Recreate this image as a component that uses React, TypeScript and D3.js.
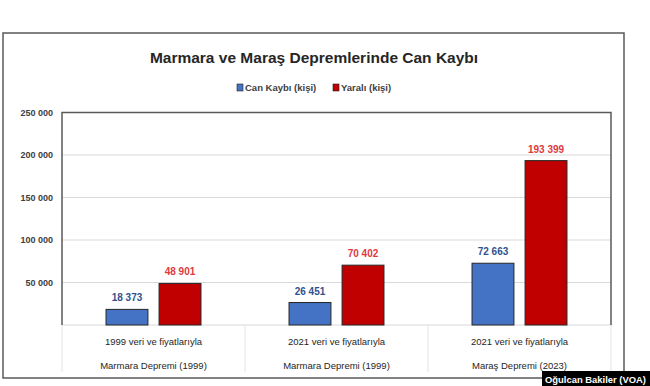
import React from "react";
import * as d3 from "d3";

const categories = ["Marmara Depremi (1999) a", "Marmara Depremi (1999) b", "Maraş Depremi (2023)"];
const rowOne = ["1999 veri ve fiyatlarıyla", "2021 veri ve fiyatlarıyla", "2021 veri ve fiyatlarıyla"];
const rowTwo = ["Marmara Depremi (1999)", "Marmara Depremi (1999)", "Maraş Depremi (2023)"];
const seriesNames = ["Can Kaybı (kişi)", "Yaralı (kişi)"];
const canKaybi = [18373, 26451, 72663];
const yarali = [48901, 70402, 193399];
const yTicks = [50000, 100000, 150000, 200000, 250000];

const W = 650;
const H = 386;
const font = "'Liberation Sans', Arial, sans-serif";
const barFill = ["#4472C4", "#C00000"];
const labelFill = ["#2F528F", "#E0393E"];

const fmt = (v: number) => d3.format(",")(v).replace(/,/g, " ");

export default function App() {
  const plot = { left: 62, right: 611, top: 112.5, bottom: 325 };
  const x = d3.scaleBand<string>().domain(categories).range([plot.left, plot.right]).padding(0);
  const xs = d3
    .scaleBand<string>()
    .domain(seriesNames)
    .range([0, x.bandwidth()])
    .paddingInner(0.21)
    .paddingOuter(0.83);
  const y = d3.scaleLinear().domain([0, 250000]).range([plot.bottom, plot.top]);
  const series = [canKaybi, yarali];

  return (
    <svg
      width={W}
      height={H}
      style={{ position: "absolute", left: 0, top: 0, background: "#fff" }}
      fontFamily={font}
    >
      <rect x={3} y={33} width={621} height={345} fill="#fff" stroke="#595959" strokeWidth={1.5} />

      <text x={314} y={63} textAnchor="middle" fontSize={15.5} fontWeight="bold" fill="#262626">
        Marmara ve Maraş Depremlerinde Can Kaybı
      </text>

      {/* legend */}
      <g fontSize={9.5} fontWeight="bold" fill="#404040">
        <rect x={237} y={84} width={6} height={7} fill={barFill[0]} stroke="#222" strokeWidth={0.6} />
        <text x={245} y={91}>{seriesNames[0]}</text>
        <rect x={333} y={84} width={6} height={7} fill={barFill[1]} stroke="#222" strokeWidth={0.6} />
        <text x={341} y={91}>{seriesNames[1]}</text>
      </g>

      {/* gridlines */}
      {yTicks.slice(0, -1).map((t) => (
        <line key={t} x1={plot.left} x2={plot.right} y1={y(t)} y2={y(t)} stroke="#d9d9d9" strokeWidth={1} />
      ))}

      {/* y labels */}
      {yTicks.map((t) => (
        <text key={t} x={53} y={y(t) + 3} textAnchor="end" fontSize={9} fill="#404040" fontWeight="bold">
          {fmt(t)}
        </text>
      ))}

      {/* table under plot */}
      <line x1={plot.left} x2={plot.right} y1={plot.bottom} y2={plot.bottom} stroke="#d9d9d9" />
      {[...categories.map((c) => x(c)!), plot.right].map((xv, i) => (
        <line key={i} x1={xv} x2={xv} y1={plot.bottom} y2={372} stroke="#e3e3e3" />
      ))}
      {categories.map((c, i) => (
        <g key={c} fontSize={9.5} fill="#262626" textAnchor="middle">
          <text x={x(c)! + x.bandwidth() / 2} y={345}>{rowOne[i]}</text>
          <text x={x(c)! + x.bandwidth() / 2} y={369}>{rowTwo[i]}</text>
        </g>
      ))}

      {/* plot border */}
      <path
        d={`M${plot.left},${plot.bottom}V${plot.top}H${plot.right}V${plot.bottom}`}
        fill="none"
        stroke="#595959"
        strokeWidth={1.5}
      />

      {/* bars */}
      {series.map((vals, s) =>
        categories.map((c, i) => {
          const bx = x(c)! + xs(seriesNames[s])!;
          return (
            <g key={`${s}-${i}`}>
              <rect
                x={bx}
                y={y(vals[i])}
                width={xs.bandwidth()}
                height={plot.bottom - y(vals[i])}
                fill={barFill[s]}
                stroke="#262626"
                strokeWidth={1}
              />
              <text
                x={bx + xs.bandwidth() / 2}
                y={y(vals[i]) - 8}
                textAnchor="middle"
                fontSize={10}
                fontWeight="bold"
                fill={labelFill[s]}
              >
                {fmt(vals[i])}
              </text>
            </g>
          );
        })
      )}

      {/* credit */}
      <rect x={542} y={371} width={108} height={15} fill="#000" />
      <text
        x={545}
        y={382.5}
        fontSize={9.5}
        fontWeight="bold"
        fill="#fff"
        textLength={101}
        lengthAdjust="spacingAndGlyphs"
      >
        Oğulcan Bakiler (VOA)
      </text>
    </svg>
  );
}
